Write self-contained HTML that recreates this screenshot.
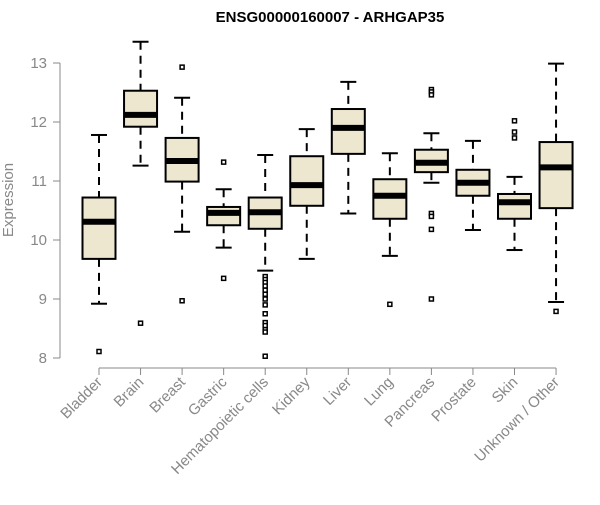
<!DOCTYPE html>
<html><head><meta charset="utf-8"><style>
body{margin:0;background:#fff}
svg{font-family:"Liberation Sans",Arial,sans-serif}
</style></head><body>
<svg id="chart" width="600" height="500"></svg>
<script>
const categories=["Bladder","Brain","Breast","Gastric","Hematopoietic cells","Kidney","Liver","Lung","Pancreas","Prostate","Skin","Unknown / Other"];
const whiskerLow=[8.92,11.26,10.14,9.87,9.48,9.68,10.45,9.73,10.97,10.17,9.83,8.95];
const q1=[9.68,11.92,10.99,10.25,10.19,10.58,11.46,10.36,11.15,10.75,10.36,10.54];
const medians=[10.31,12.12,11.34,10.46,10.47,10.93,11.9,10.75,11.31,10.97,10.64,11.23];
const q3=[10.72,12.53,11.73,10.56,10.72,11.42,12.22,11.03,11.53,11.19,10.78,11.66];
const whiskerHigh=[11.78,13.36,12.41,10.86,11.44,11.88,12.68,11.47,11.81,11.68,11.07,12.99];
const outliers=[[8.11],[8.59],[12.93,8.97],[11.32,9.35],[9.38,9.33,9.28,9.22,9.15,9.08,9.0,8.9,8.75,8.6,8.55,8.48,8.44,8.03],[],[],[8.91],[12.55,12.51,12.46,10.45,10.4,10.18,9.0],[],[12.02,11.83,11.73],[8.79]];
const yTicks=[8,9,10,11,12,13];

const NS="http://www.w3.org/2000/svg";
const svg=document.getElementById('chart');
const y=v=>63+(13-v)*59;
const x=i=>99+i*41.55;
function mk(tag,attrs,parent){const e=document.createElementNS(NS,tag);for(const k in attrs)e.setAttribute(k,attrs[k]);(parent||svg).appendChild(e);return e;}

const title=mk('text',{x:330,y:22,'text-anchor':'middle','font-size':15,'font-weight':'bold',fill:'#000'});
title.textContent="ENSG00000160007 - ARHGAP35";



const yl=mk('text',{x:0,y:0,transform:'translate(13,200) rotate(-90)','text-anchor':'middle','font-size':15,fill:'#888'});
yl.textContent="Expression";



const ya=mk('line',{x1:60,x2:60,y1:y(13),y2:y(8),stroke:'#888','stroke-width':1});


yTicks.forEach(t=>{
  mk('line',{x1:53,x2:60,y1:y(t),y2:y(t),stroke:'#888'});
  const tl=mk('text',{x:47,y:y(t)+5,'text-anchor':'end','font-size':15,fill:'#888'});
  tl.textContent=t;
  
  
});
const xa=mk('line',{x1:x(0),x2:x(11),y1:368,y2:368,stroke:'#888'});



categories.forEach((c,i)=>{
  const cx=x(i);
  mk('line',{x1:cx,x2:cx,y1:368,y2:375,stroke:'#888'});
  const lab=mk('text',{x:0,y:0,transform:`translate(${cx+4},${383}) rotate(-45)`,'text-anchor':'end','font-size':15,fill:'#888'});
  lab.textContent=c;
  
  
  const g=mk('g',{});
  
  
  mk('line',{x1:cx,x2:cx,y1:y(whiskerHigh[i]),y2:y(q3[i]),stroke:'#000','stroke-width':2,'stroke-dasharray':'8,6'},g);
  mk('line',{x1:cx,x2:cx,y1:y(q1[i]),y2:y(whiskerLow[i]),stroke:'#000','stroke-width':2,'stroke-dasharray':'8,6'},g);
  mk('line',{x1:cx-8,x2:cx+8,y1:y(whiskerHigh[i]),y2:y(whiskerHigh[i]),stroke:'#000','stroke-width':2},g);
  mk('line',{x1:cx-8,x2:cx+8,y1:y(whiskerLow[i]),y2:y(whiskerLow[i]),stroke:'#000','stroke-width':2},g);
  mk('rect',{x:cx-16.5,y:y(q3[i]),width:33,height:y(q1[i])-y(q3[i]),fill:'#ede7cf',stroke:'#000','stroke-width':2},g);
  mk('line',{x1:cx-16.5,x2:cx+16.5,y1:y(medians[i]),y2:y(medians[i]),stroke:'#000','stroke-width':6},g);
  outliers[i].forEach(o=>{
    const p=mk('rect',{x:cx-2,y:y(o)-2,width:4,height:4,fill:'#fff',stroke:'#000','stroke-width':1.5},g);
    
    
  });
});
</script>
</body></html>
